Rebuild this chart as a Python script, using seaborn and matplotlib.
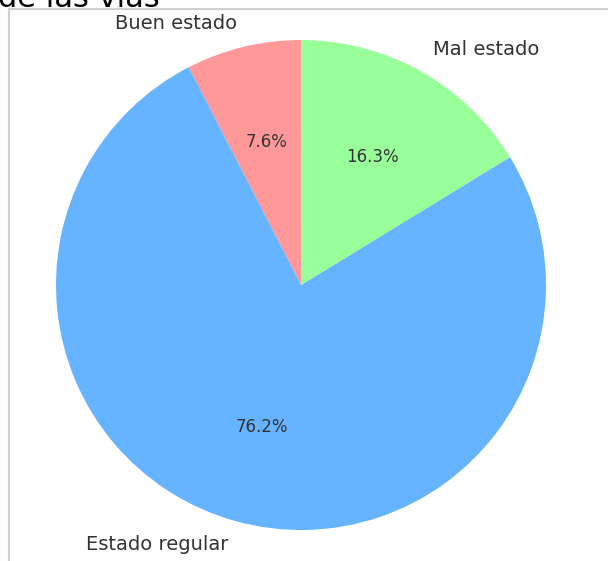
import matplotlib
matplotlib.use("Agg")
import matplotlib.pyplot as plt
import seaborn as sns
from matplotlib.patches import Rectangle

# Datos (porcentajes del gráfico)
labels = ["Buen estado", "Estado regular", "Mal estado"]
values = [7.58, 76.16, 16.26]
colors = ["#ff9999", "#66b3ff", "#99ff99"]

sns.set_style("white")
plt.rcParams["font.family"] = ["DejaVu Sans"]

fig = plt.figure(figsize=(6.08, 5.61), dpi=100)

# Marco gris del recorte
fig.patches.append(Rectangle((9 / 608, -0.1), 1.2, 1 - 9 / 561 + 0.1,
                             transform=fig.transFigure, fill=False,
                             edgecolor="#d0d0d0", linewidth=1.5))

# Título recortado arriba
fig.text(-0.003, 1 - 7 / 561, "de las vías", fontsize=22, color="black",
         ha="left", va="baseline")

r = 245
side = 2.5 * r
ax = fig.add_axes([(301 - side / 2) / 608, (561 - 285 - side / 2) / 561,
                   side / 608, side / 561])
wedges, texts, autotexts = ax.pie(values, labels=labels, colors=colors,
                                  autopct="%1.1f%%", startangle=90,
                                  wedgeprops={"linewidth": 0},
                                  textprops={"fontsize": 14, "color": ".2"})
for t in autotexts:
    t.set_fontsize(12)
ax.set_xlim(-1.25, 1.25)
ax.set_ylim(-1.25, 1.25)
ax.set_aspect("equal")
ax.axis("off")

fig.savefig("out.png", dpi=100)
